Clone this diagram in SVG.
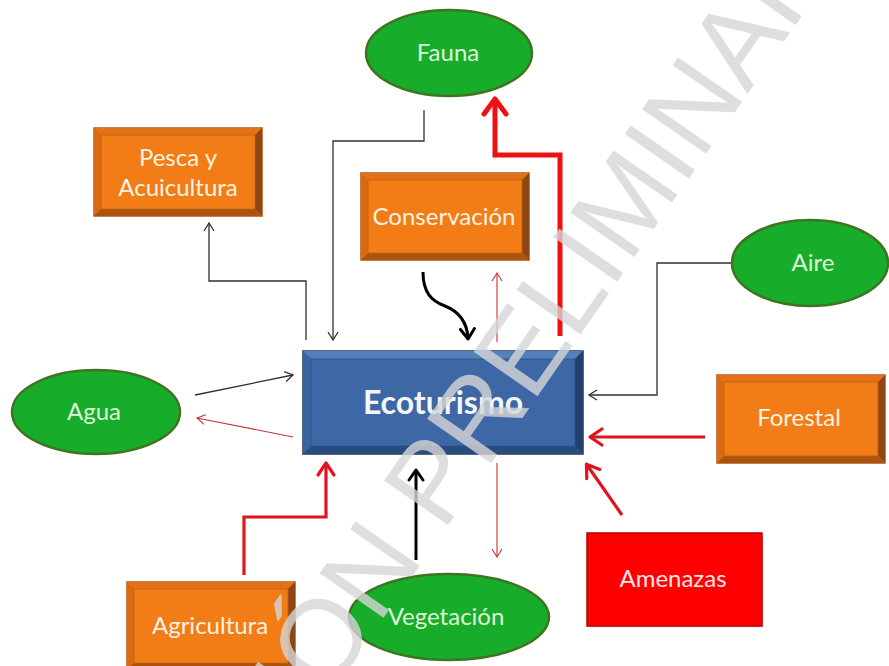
<svg xmlns="http://www.w3.org/2000/svg" width="889" height="666" viewBox="0 0 889 666">
<style>
  .lbl { font-family: Lato, "Noto Sans", sans-serif; font-size: 24px; text-anchor: middle; }
  .lg { fill: #dff6d6; }
  .lo { fill: #fff3e4; }
  .lr { fill: #ffe6e6; }
  .ell { fill: #17ad2b; stroke: #3f7422; stroke-width: 2.5; }
  .ob { fill: #f27b15; stroke: #b4560f; stroke-width: 1.5; }
  .ot { fill: #e3711a; }
  .ol { fill: #d96a12; }
  .or { fill: #8d4614; }
  .obt { fill: #a9550f; }
  .oi { fill: #f27c15; stroke: #c2620f; stroke-width: 0.8; }
  .bb { fill: #3d68a5; stroke: #1c355c; stroke-width: 1.5; }
  .bt { fill: #547fbb; }
  .bl { fill: #3a64a0; }
  .br { fill: #21406c; }
  .bbt { fill: #294b7d; }
  .bi { fill: #3d68a5; stroke: #2d5288; stroke-width: 0.8; }
  .thinB { fill: none; stroke: #303030; stroke-width: 1.3; marker-end: url(#aBlack); }
  .thinR { fill: none; stroke: #c8323a; stroke-width: 1.1; marker-end: url(#aRedThin); }
  .midR { fill: none; stroke: #e0141c; stroke-width: 3.2; marker-end: url(#aRed); }
  .bigR { fill: none; stroke: #ee1111; stroke-width: 5; marker-end: url(#aRedBig); }
  .thkB { fill: none; stroke: #000000; stroke-width: 3; marker-end: url(#aBlackThick); }
  .wm { font-family: "Liberation Sans", Arial, sans-serif; font-size: 113px; fill: #d6d6d6; opacity: 0.8; }
</style>
<defs>
  <marker id="aBlack" markerUnits="userSpaceOnUse" markerWidth="20" markerHeight="20" refX="0" refY="0" orient="auto" overflow="visible">
    <path d="M-8,-5 L0,0 L-8,5" fill="none" stroke="#303030" stroke-width="1.3"/>
  </marker>
  <marker id="aRedThin" markerUnits="userSpaceOnUse" markerWidth="20" markerHeight="20" refX="0" refY="0" orient="auto" overflow="visible">
    <path d="M-8,-5 L0,0 L-8,5" fill="none" stroke="#c8323a" stroke-width="1.1"/>
  </marker>
  <marker id="aRed" markerUnits="userSpaceOnUse" markerWidth="30" markerHeight="30" refX="0" refY="0" orient="auto" overflow="visible">
    <path d="M-11,-8 L1,0 L-11,8" fill="none" stroke="#e0141c" stroke-width="3.2" stroke-linejoin="round" stroke-linecap="round"/>
  </marker>
  <marker id="aRedBig" markerUnits="userSpaceOnUse" markerWidth="40" markerHeight="40" refX="0" refY="0" orient="auto" overflow="visible">
    <path d="M-14,-11 L1,0 L-14,11" fill="none" stroke="#ee1111" stroke-width="5" stroke-linejoin="round" stroke-linecap="round"/>
  </marker>
  <marker id="aBlackThick" markerUnits="userSpaceOnUse" markerWidth="30" markerHeight="30" refX="0" refY="0" orient="auto" overflow="visible">
    <path d="M-9,-7 L1,0 L-9,7" fill="none" stroke="#000000" stroke-width="3" stroke-linejoin="round" stroke-linecap="round"/>
  </marker>
</defs>
<rect x="0" y="0" width="889" height="666" fill="#ffffff"/>

<g id="node-fauna">
  <ellipse class="ell" cx="449" cy="53" rx="83" ry="43"/>
  <text class="lbl lg" x="448" y="61">Fauna</text>
</g>
<g id="node-pesca">
  <rect class="ob" x="94" y="128" width="168" height="88"/>
  <polygon class="ot" points="94,128 262,128 255,135 101,135"/>
  <polygon class="ol" points="94,128 101,135 101,209 94,216"/>
  <polygon class="or" points="262,128 262,216 255,209 255,135"/>
  <polygon class="obt" points="94,216 262,216 255,209 101,209"/>
  <rect class="oi" x="101" y="135" width="154" height="74"/>
  <text class="lbl lo" x="178" y="166">Pesca y</text>
  <text class="lbl lo" x="178" y="196">Acuicultura</text>
</g>
<g id="node-conservacion">
  <rect class="ob" x="361" y="173" width="168" height="87"/>
  <polygon class="ot" points="361,173 529,173 522,180 368,180"/>
  <polygon class="ol" points="361,173 368,180 368,253 361,260"/>
  <polygon class="or" points="529,173 529,260 522,253 522,180"/>
  <polygon class="obt" points="361,260 529,260 522,253 368,253"/>
  <rect class="oi" x="368" y="180" width="154" height="73"/>
  <text class="lbl lo" x="444" y="225">Conservación</text>
</g>
<g id="node-aire">
  <ellipse class="ell" cx="810" cy="263" rx="78" ry="43"/>
  <text class="lbl lg" x="813" y="271">Aire</text>
</g>
<g id="node-ecoturismo">
  <rect class="bb" x="303" y="351" width="280" height="103"/>
  <polygon class="bt" points="303,351 583,351 575,359 311,359"/>
  <polygon class="bl" points="303,351 311,359 311,446 303,454"/>
  <polygon class="br" points="583,351 583,454 575,446 575,359"/>
  <polygon class="bbt" points="303,454 583,454 575,446 311,446"/>
  <rect class="bi" x="311" y="359" width="264" height="87"/>
  <text x="443" y="414" style="font-family: Lato, 'Noto Sans', sans-serif; font-size: 32px; font-weight: bold; text-anchor: middle; fill: #f4f6fb;">Ecoturismo</text>
</g>
<g id="node-agua">
  <ellipse class="ell" cx="96" cy="412" rx="84" ry="42"/>
  <text class="lbl lg" x="94" y="420">Agua</text>
</g>
<g id="node-forestal">
  <rect class="ob" x="717" y="375" width="168" height="88"/>
  <polygon class="ot" points="717,375 885,375 878,382 724,382"/>
  <polygon class="ol" points="717,375 724,382 724,456 717,463"/>
  <polygon class="or" points="885,375 885,463 878,456 878,382"/>
  <polygon class="obt" points="717,463 885,463 878,456 724,456"/>
  <rect class="oi" x="724" y="382" width="154" height="74"/>
  <text class="lbl lo" x="799" y="426">Forestal</text>
</g>
<g id="node-amenazas">
  <rect x="589" y="535" width="175" height="93" fill="#d8d8d8" opacity="0.5"/>
  <rect x="587" y="533" width="175" height="93" fill="#ff0000" stroke="#b00000" stroke-width="1.5"/>
  <text class="lbl lr" x="673" y="587">Amenazas</text>
</g>
<g id="node-agricultura">
  <rect class="ob" x="127" y="582" width="168" height="88"/>
  <polygon class="ot" points="127,582 295,582 288,589 134,589"/>
  <polygon class="ol" points="127,582 134,589 134,663 127,670"/>
  <polygon class="or" points="295,582 295,670 288,663 288,589"/>
  <polygon class="obt" points="127,670 295,670 288,663 134,663"/>
  <rect class="oi" x="134" y="589" width="154" height="74"/>
  <text class="lbl lo" x="210" y="634">Agricultura</text>
</g>
<g id="node-vegetacion">
  <ellipse class="ell" cx="449" cy="617" rx="100" ry="43"/>
  <text class="lbl lg" x="446" y="625">Vegetación</text>
</g>

<g id="connectors">
  <path class="thinB" d="M424,110 V141 H333 V340"/>
  <path class="thinB" d="M306,340 V281 H209 V223"/>
  <path class="thinB" d="M731,263 H657 V395 H589"/>
  <path class="thinB" d="M195,395 L293,375"/>
  <path class="thinR" d="M293,437 L197,418"/>
  <path class="thinR" d="M497,342 V273"/>
  <path class="thinR" d="M497,463 V557"/>
  <path class="thkB" d="M423,272 C423,292 431,301 445,306 C460,312 467,322 468,338"/>
  <path class="thkB" d="M416,560 V471"/>
  <path class="midR" d="M244,575 V517 H326 V464"/>
  <path class="midR" d="M705,437 H591"/>
  <path class="midR" d="M622,515 L587,465"/>
  <path class="bigR" d="M560,336 V155 H495 V100"/>
</g>

<g id="watermark">
  <text class="wm" transform="translate(134.5,976) rotate(-55.2)">VERSIÓN PRELIMINAR</text>
</g>
</svg>
